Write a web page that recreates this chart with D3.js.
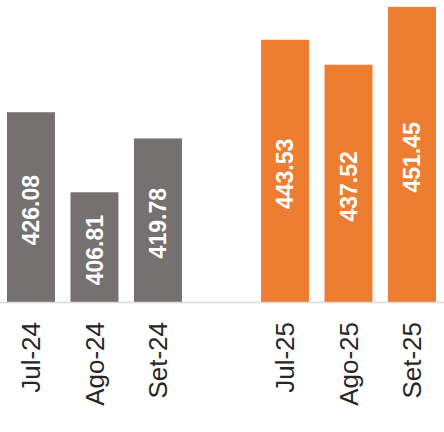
<!DOCTYPE html>
<html>
<head>
<meta charset="utf-8">
<script src="https://cdn.jsdelivr.net/npm/d3@7"></script>
<style>
  html, body { margin: 0; padding: 0; background: #fff; }
  svg { display: block; }
</style>
</head>
<body>
<div id="chart"></div>
<script>
// months, with an empty slot between the two years
var categories = ["Jul-24", "Ago-24", "Set-24", "", "Jul-25", "Ago-25", "Set-25"];
var values = [426.08, 406.81, 419.78, null, 443.53, 437.52, 451.45];
var years = ["2024", "2024", "2024", null, "2025", "2025", "2025"];
var yDomain = [380.4, 453.1];

var width = 444, height = 432, baseline = 302;

var colors = { "2024": "#767171", "2025": "#ED7D31" };

var svg = d3.select("#chart").append("svg")
	.attr("width", width)
	.attr("height", height);

var x = d3.scaleBand()
	.domain(categories)
	.range([7, 436])
	.paddingInner(0.245)
	.paddingOuter(0);

var y = d3.scaleLinear()
	.domain(yDomain)
	.range([baseline, 0]);

var data = categories.map(function(c, i) {
	return { cat: c, value: values[i], year: years[i] };
}).filter(function(d) { return d.value !== null; });

// bars
svg.selectAll("rect.bar")
	.data(data)
	.enter().append("rect")
	.attr("class", "bar")
	.attr("x", function(d) { return x(d.cat); })
	.attr("y", function(d) { return y(d.value); })
	.attr("width", x.bandwidth())
	.attr("height", function(d) { return baseline - y(d.value); })
	.attr("fill", function(d) { return colors[d.year]; });

// value labels inside bars
svg.selectAll("text.val")
	.data(data)
	.enter().append("text")
	.attr("class", "val")
	.attr("transform", function(d) {
		var cx = x(d.cat) + x.bandwidth() / 2;
		var cy = (y(d.value) + baseline) / 2 + 3;
		return "translate(" + cx + "," + cy + ") rotate(-90)";
	})
	.attr("text-anchor", "middle")
	.attr("dy", "0.35em")
	.attr("fill", "#fff")
	.style("font-family", "'Liberation Sans', Arial, sans-serif")
	.style("font-weight", "bold")
	.style("font-size", "23px")
	.text(function(d) { return d.value.toFixed(2); });

// axis line across the whole width
svg.append("line")
	.attr("x1", 0).attr("x2", width)
	.attr("y1", baseline + 0.5).attr("y2", baseline + 0.5)
	.attr("stroke", "#d9d9d9")
	.attr("stroke-width", 1.5);

// category labels
var xAxis = d3.axisBottom(x).tickSize(0).tickPadding(0);
var gx = svg.append("g")
	.attr("transform", "translate(0," + baseline + ")")
	.call(xAxis);
gx.select(".domain").remove();
gx.selectAll(".tick text")
	.attr("y", 0)
	.attr("dy", "0.35em")
	.attr("transform", "translate(0,20) rotate(-90)")
	.attr("text-anchor", "end")
	.attr("fill", "#262626")
	.style("font-family", "'Liberation Sans', Arial, sans-serif")
	.style("font-size", "26px");
</script>
</body>
</html>
